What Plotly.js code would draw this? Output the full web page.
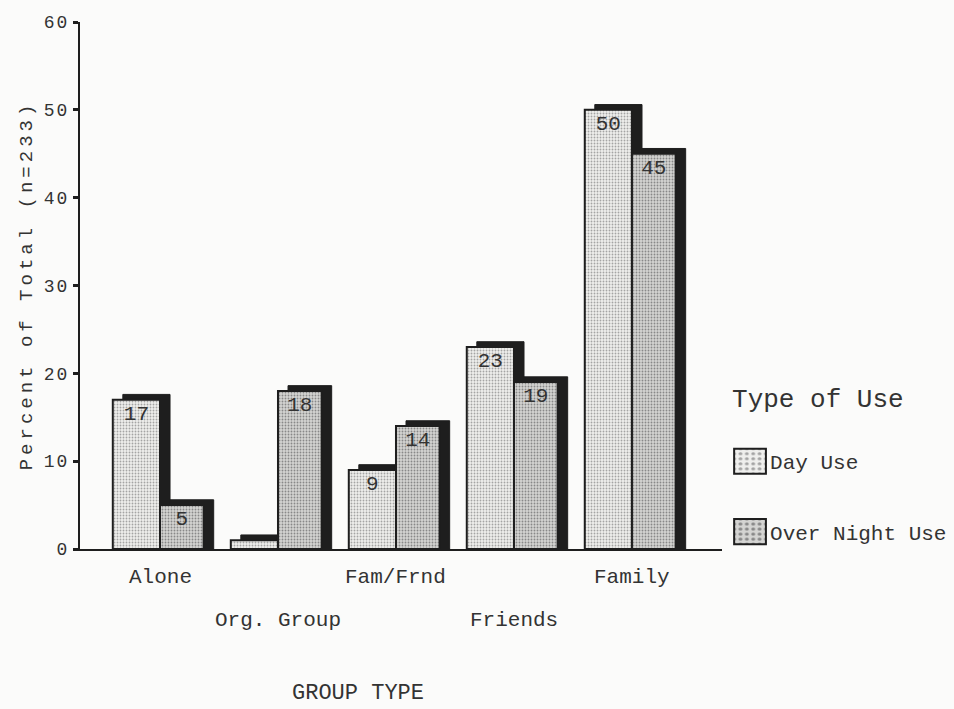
<!DOCTYPE html>
<html>
<head>
<meta charset="utf-8">
<script src="https://cdn.plot.ly/plotly-3.0.1.min.js"></script>
<style>
  html, body { margin: 0; padding: 0; background: #fbfbfa; }
  #chart { width: 954px; height: 709px; }
  #chart .ytitle { letter-spacing: 4px; }
  #chart .ytick text { letter-spacing: 2px; }
  #chart .legend .legendpoints path {
    transform: translate(20px, 0px) scale(2.65, 2.1);
    vector-effect: non-scaling-stroke;
  }
</style>
</head>
<body>
<div id="chart"></div>
<script>
// ---- data ----
const categories = ['Alone', 'Org. Group', 'Fam/Frnd', 'Friends', 'Family'];
const tickLabels = ['Alone', 'Org. Group', 'Fam/Frnd', 'Friends', 'Family'];
const dayUse = [17, 1, 9, 23, 50];
const overNightUse = [5, 18, 14, 19, 45];
const dayLabels = ['17', '', '9', '23', '50'];
const nightLabels = ['5', '18', '14', '19', '45'];
const seriesNames = ['Day Use', 'Over Night Use'];
const yTicks = [0, 10, 20, 30, 40, 50, 60];

// ---- style ----
const FONT = '"Liberation Mono", "DejaVu Sans Mono", monospace';
const INK = '#1e1e1e';
const TEXT = '#333';
const depthX = 0.085;   // 3D shadow shift (category units)
const depthY = 0.6;     // 3D shadow lift (value units)
const dayW = 0.40, nightW = 0.37;
const dayOff = -0.40, nightOff = 0.0;
const rowY = [-0.055, -0.135];  // staggered category label rows (paper units)

function shadow(vals, off, w) {
  return {
    type: 'bar', x: categories, y: vals.map(v => v + depthY),
    offset: off + depthX, width: w,
    marker: { color: INK, line: { color: INK, width: 1 } },
    showlegend: false, hoverinfo: 'skip'
  };
}
function front(vals, labels, off, w, name, bg, fg) {
  return {
    type: 'bar', x: categories, y: vals, name: name,
    offset: off, width: w, legendgroup: name,
    text: labels, textposition: 'inside', insidetextanchor: 'end',
    textangle: 0, constraintext: 'none',
    textfont: { family: FONT, size: 21, color: TEXT },
    marker: {
      color: bg,
      pattern: { shape: '.', fgcolor: fg, bgcolor: bg, size: 3, solidity: 0.3 },
      line: { color: INK, width: 2 }
    }
  };
}

const traces = [
  shadow(dayUse, dayOff, dayW),
  front(dayUse, dayLabels, dayOff, dayW, seriesNames[0], '#efefed', '#a4a4a4'),
  shadow(overNightUse, nightOff, nightW),
  front(overNightUse, nightLabels, nightOff, nightW, seriesNames[1], '#d4d4d2', '#888888')
];

const catAnnotations = categories.map((c, i) => ({
  text: tickLabels[i], x: c, xref: 'x', yref: 'paper', y: rowY[i % 2],
  xanchor: 'center', yanchor: 'middle', showarrow: false,
  font: { family: FONT, size: 21, color: TEXT }
}));

const layout = {
  width: 954, height: 709,
  paper_bgcolor: '#fbfbfa', plot_bgcolor: '#fbfbfa',
  margin: { l: 80, r: 232, t: 22, b: 160, autoexpand: false },
  barmode: 'overlay',
  font: { family: FONT, color: TEXT },
  xaxis: {
    type: 'category', range: [-0.678, 4.763],
    categoryarray: categories,
    showticklabels: false, ticks: '', showgrid: false, zeroline: false,
    showline: true, linecolor: INK, linewidth: 2,
    automargin: false
  },
  yaxis: {
    range: [0, 60], tickvals: yTicks,
    ticks: 'outside', ticklen: 5, tickwidth: 3, tickcolor: INK,
    showgrid: false, zeroline: false,
    showline: true, linecolor: INK, linewidth: 2,
    tickfont: { family: FONT, size: 18, color: TEXT },
    title: { text: 'Percent of Total (n=233)', font: { family: FONT, size: 19, color: TEXT }, standoff: 10 },
    automargin: false
  },
  showlegend: true,
  legend: {
    x: 1.0125, xanchor: 'left', y: 0.333, yanchor: 'top',
    bgcolor: 'rgba(0,0,0,0)', traceorder: 'grouped', tracegroupgap: 40,
    font: { family: FONT, size: 21, color: TEXT },
    title: { text: 'Type of Use<br> ', font: { family: FONT, size: 26, color: TEXT } }
  },
  annotations: catAnnotations.concat([{
    text: 'GROUP TYPE', xref: 'paper', yref: 'paper',
    x: (358 - 80) / 642, y: -0.275, xanchor: 'center', yanchor: 'middle',
    showarrow: false, font: { family: FONT, size: 22, color: TEXT }
  }])
};

Plotly.newPlot('chart', traces, layout, { displayModeBar: false, staticPlot: true });
</script>
</body>
</html>
